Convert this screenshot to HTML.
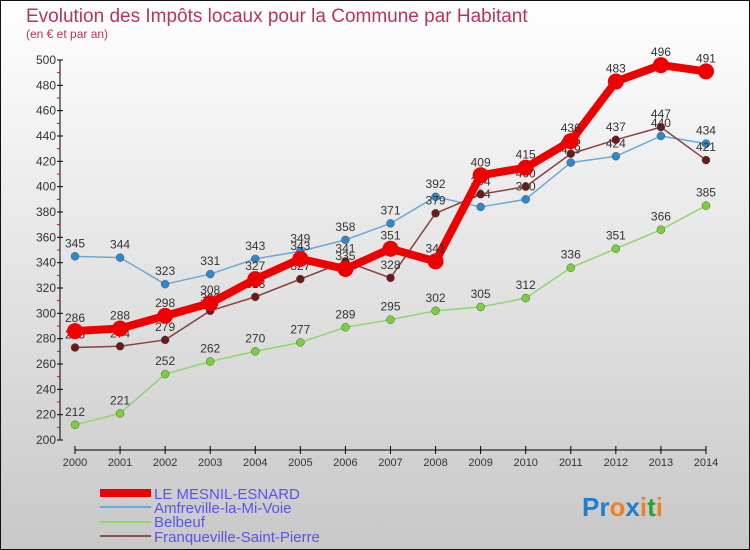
<!DOCTYPE html>
<html><head><meta charset="utf-8"><style>
body{margin:0}
svg{display:block;font-family:"Liberation Sans",sans-serif}
</style></head><body>
<svg id="c" width="750" height="550" viewBox="0 0 750 550" xmlns="http://www.w3.org/2000/svg">
<defs><linearGradient id="bg" x1="0" y1="0" x2="0" y2="1"><stop offset="0" stop-color="#ffffff"/><stop offset="1" stop-color="#c8c8c8"/></linearGradient></defs>
<rect x="0.5" y="0.5" width="749" height="549" fill="url(#bg)" stroke="#111"/>
<text x="26" y="22" font-size="19" fill="#c0305e">Evolution des Impôts locaux pour la Commune par Habitant</text>
<text x="26" y="38" font-size="12" fill="#c0305e">(en € et par an)</text>
<g id="axes"></g><g id="series"></g>
<g font-size="15" fill="#5555ee">
<line x1="100" y1="493" x2="151" y2="493" stroke="#ee0000" stroke-width="8"/><text x="154" y="499">LE MESNIL-ESNARD</text>
<line x1="100" y1="507" x2="151" y2="507" stroke="#6aa8d8" stroke-width="2"/><text x="154" y="513">Amfreville-la-Mi-Voie</text>
<line x1="100" y1="522" x2="151" y2="522" stroke="#8ed86a" stroke-width="2"/><text x="154" y="527">Belbeuf</text>
<line x1="100" y1="536" x2="151" y2="536" stroke="#8a5050" stroke-width="2"/><text x="154" y="542">Franqueville-Saint-Pierre</text>
</g>
<text x="582" y="516" font-size="26" font-weight="bold"><tspan fill="#1e7fd0">Pr</tspan><tspan fill="#f08020">o</tspan><tspan fill="#1e7fd0">x</tspan><tspan fill="#f08020">i</tspan><tspan fill="#30a030">t</tspan><tspan fill="#f08020">i</tspan></text>
</svg>
<script>
const years=[2000,2001,2002,2003,2004,2005,2006,2007,2008,2009,2010,2011,2012,2013,2014];
const mesnil=[286,288,298,308,327,343,335,351,341,409,415,436,483,496,491];
const amfreville=[345,344,323,331,343,349,358,371,392,384,390,419,424,440,434];
const belbeuf=[212,221,252,262,270,277,289,295,302,305,312,336,351,366,385];
const franqueville=[273,274,279,302,313,327,341,328,379,394,400,426,437,447,421];
const yTicks=[200,220,240,260,280,300,320,340,360,380,400,420,440,460,480,500];
const NS="http://www.w3.org/2000/svg";
const x=i=>75+i*45.07;
const y=v=>440-(v-200)*380/300;
function mk(t,a,p){const e=document.createElementNS(NS,t);for(const k in a)e.setAttribute(k,a[k]);p.appendChild(e);return e;}
const ax=document.getElementById('axes');
const yl=mk('line',{x1:60,y1:60,x2:60,y2:440,stroke:'#000'},ax);


const xl=mk('line',{x1:75,y1:450,x2:706,y2:450,stroke:'#000'},ax);


yTicks.forEach(v=>{
  mk('line',{x1:57,y1:y(v),x2:63,y2:y(v),stroke:'#000'},ax);
  if(v<500)mk('line',{x1:57,y1:y(v+10),x2:60,y2:y(v+10),stroke:'#e00'},ax);
  const t=mk('text',{x:56,y:y(v)+4,'text-anchor':'end','font-size':12,fill:'#333'},ax);
  
  
  t.textContent=v;
});
years.forEach((yr,i)=>{
  mk('line',{x1:x(i),y1:446,x2:x(i),y2:454,stroke:'#000'},ax);
  const t=mk('text',{x:x(i),y:466,'text-anchor':'middle','font-size':11,fill:'#333'},ax);
  
  
  t.textContent=yr;
});
const sg=document.getElementById('series');
function series(data,name,color,w,r,dot){
  const g=mk('g',{},sg);
  
  
  mk('polyline',{points:data.map((v,i)=>x(i)+','+y(v)).join(' '),fill:'none',stroke:color,'stroke-width':w,'stroke-linejoin':'round'},g);
  data.forEach((v,i)=>{
    const c=mk('circle',{cx:x(i),cy:y(v),r:r,fill:dot,stroke:'#555','stroke-width':w>3?0:0.5},g);
    
    
    const t=mk('text',{x:x(i),y:y(v)-9,'text-anchor':'middle','font-size':12,fill:'#333'},g);
    
    
    t.textContent=v;
  });
}
series(belbeuf,'belbeuf-series','#8ed86a',1.5,4,'#7ad03a');
series(amfreville,'amfreville-series','#6aa8d8',1.5,4,'#2e88cc');
series(franqueville,'franqueville-series','#8a4040',1.5,4,'#6a1a1a');
series(mesnil,'mesnil-series','#ee0000',8,8,'#ee0000');
</script>
</body></html>
